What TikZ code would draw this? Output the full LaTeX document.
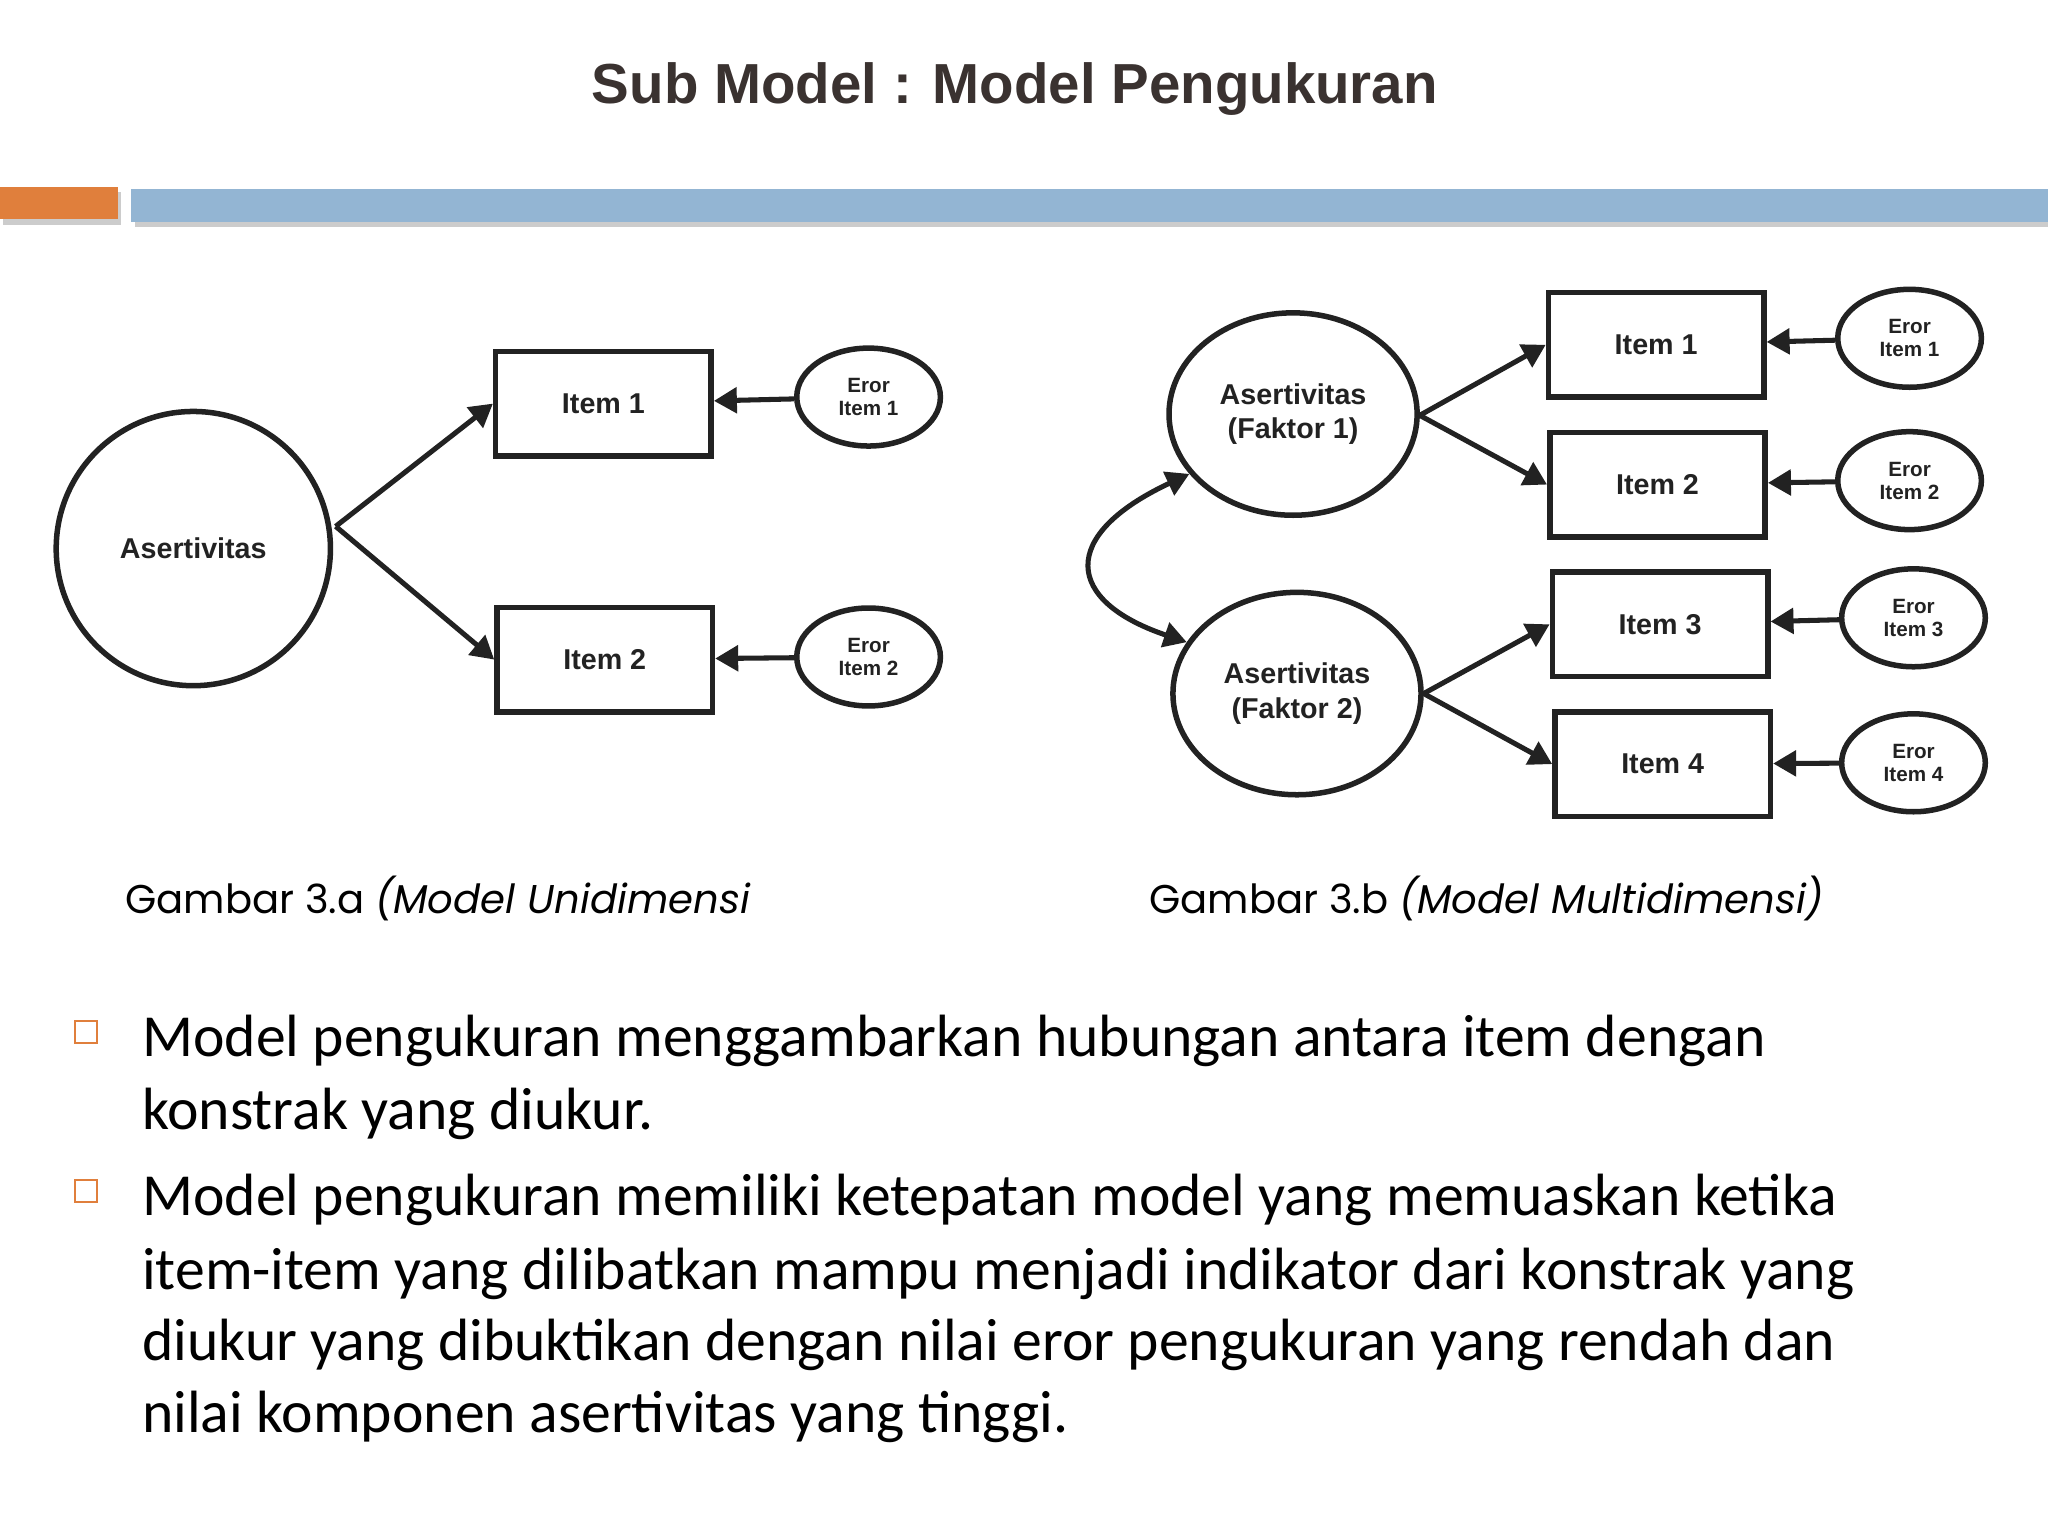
\documentclass[tikz,border=0pt]{standalone}
\usepackage{fontspec}
\setmainfont{Carlito}
\newfontfamily\hd{Liberation Sans}
\newfontfamily\capfont{Poppins}
\usetikzlibrary{arrows.meta,shapes.geometric}
\definecolor{barblue}{HTML}{93B5D3}
\definecolor{barorange}{HTML}{E07F3C}
\definecolor{ink}{HTML}{222222}
\definecolor{titlec}{HTML}{3A3230}
\tikzset{
  every picture/.style={line width=2.2pt},
  box/.style={draw=ink,line width=2.4pt,minimum width=3.3cm,minimum height=1.6cm,font=\hd\bfseries\fontsize{12.5}{14}\selectfont,text=ink},
  lat/.style={draw=ink,line width=2.4pt,circle,minimum size=4.2cm,font=\hd\bfseries\fontsize{12.5}{14}\selectfont,text=ink},
  fak/.style={draw=ink,line width=2.4pt,ellipse,minimum width=3.8cm,minimum height=3.1cm,align=center,font=\hd\bfseries\fontsize{12.5}{15}\selectfont,text=ink},
  err/.style={draw=ink,line width=2.4pt,ellipse,minimum width=2.2cm,minimum height=1.5cm,align=center,inner sep=0pt,font=\hd\bfseries\fontsize{9}{10}\selectfont,text=ink},
  arr/.style={draw=ink,line width=2.2pt,-{Triangle[length=10pt,width=11pt]}},
  bul/.style={anchor=west,font=\fontsize{26}{30}\selectfont,text=black,inner sep=0pt},
  bsq/.style={draw=barorange,line width=0.9pt,minimum size=0.33cm,inner sep=0pt}
}
\begin{document}
\begin{tikzpicture}[x=0.02cm,y=-0.02cm]
\useasboundingbox (0,0) rectangle (1568,1176);
\node[font=\hd\bfseries\fontsize{24.6}{28}\selectfont,text=titlec] (title) at (777,68) {Sub Model : Model Pengukuran};
\fill[gray!40] (2,147) rectangle (93,172);
\fill[barorange] (0,143) rectangle (90,168);
\fill[gray!40] (103,149) rectangle (1568,174);
\fill[barblue] (100,145) rectangle (1568,170);
% left model
\node[lat] (a) at (148,420) {Asertivitas};
\node[box] (i1) at (462,309) {Item 1};
\node[box] (i2) at (463,505) {Item 2};
\node[err] (e1) at (665,304) {Eror\\Item 1};
\node[err] (e2) at (665,503) {Eror\\Item 2};
\coordinate (ap) at (257,403);
\draw[arr] (ap) -- (i1.west);
\draw[arr] (ap) -- (i2.west);
\draw[arr] (e1) -- (i1);
\draw[arr] (e2) -- (i2);
% right model
\node[fak] (f1) at (990,317) {Asertivitas\\(Faktor 1)};
\node[fak] (f2) at (993,531) {Asertivitas\\(Faktor 2)};
\node[box] (r1) at (1268,264) {Item 1};
\node[box] (r2) at (1269,371) {Item 2};
\node[box] (r3) at (1271,478) {Item 3};
\node[box] (r4) at (1273,585) {Item 4};
\node[err] (s1) at (1462,259) {Eror\\Item 1};
\node[err] (s2) at (1462,368) {Eror\\Item 2};
\node[err] (s3) at (1465,473) {Eror\\Item 3};
\node[err] (s4) at (1465,584) {Eror\\Item 4};
\coordinate (p1) at (1087,318);
\coordinate (p2) at (1090,531);
\draw[arr] (p1) -- (r1.west);
\draw[arr] (p1) -- (r2.west);
\draw[arr] (p2) -- (r3.west);
\draw[arr] (p2) -- (r4.west);
\draw[arr] (s1) -- (r1);
\draw[arr] (s2) -- (r2);
\draw[arr] (s3) -- (r3);
\draw[arr] (s4) -- (r4);
\draw[draw=ink,line width=2.2pt,{Triangle[length=10pt,width=11pt]}-{Triangle[length=10pt,width=11pt]}] (f1.210) .. controls (810,410) and (815,460) .. (f2.155);
% captions
\node[anchor=west,font=\capfont\fontsize{17.5}{20}\selectfont,inner sep=0pt] (c1) at (94,688) {Gambar 3.a \textit{(Model Unidimensi}};
\node[anchor=west,font=\capfont\fontsize{17.5}{20}\selectfont,inner sep=0pt] (c2) at (878,688) {Gambar 3.b \textit{(Model Multidimensi)}};
% bullets
\node[bsq] (b1) at (66,790) {};
\node[bsq] (b2) at (66,912) {};
\node[bul] (t1) at (107,797) {Model pengukuran menggambarkan hubungan antara item dengan};
\node[bul] (t2) at (107,853) {konstrak yang diukur.};
\node[bul] (t3) at (107,919) {Model pengukuran memiliki ketepatan model yang memuaskan ketika};
\node[bul] (t4) at (107,975) {item-item yang dilibatkan mampu menjadi indikator dari konstrak yang};
\node[bul] (t5) at (107,1030) {diukur yang dibuktikan dengan nilai eror pengukuran yang rendah dan};
\node[bul] (t6) at (107,1085) {nilai komponen asertivitas yang tinggi.};
\end{tikzpicture}
\end{document}
